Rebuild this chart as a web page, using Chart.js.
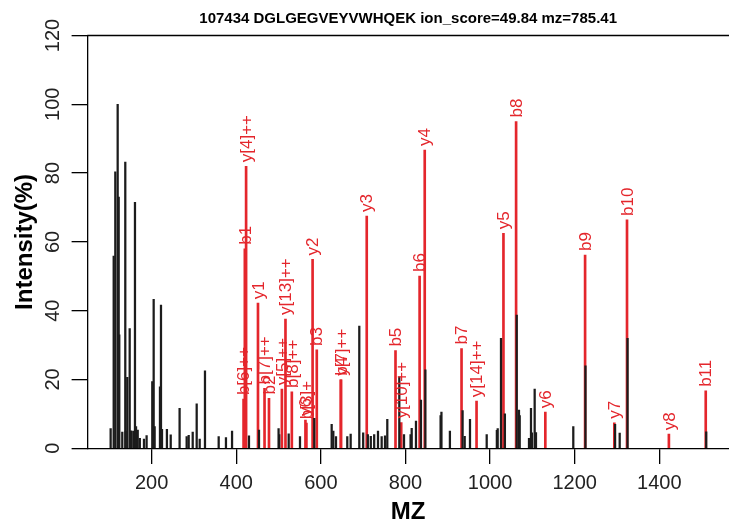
<!DOCTYPE html>
<html>
<head>
<meta charset="utf-8">
<script src="https://cdn.jsdelivr.net/npm/chart.js@4.4.1/dist/chart.umd.min.js"></script>
<style>
  html, body { margin: 0; padding: 0; background: #fff; }
  #chart_spectrum { display: block; }
</style>
</head>
<body>
<canvas id="chart_spectrum" width="729" height="525"></canvas>
<script>
// spectrum title
const title_text = '107434 DGLGEGVEYVWHQEK ion_score=49.84 mz=785.41';

// unmatched peaks (black)
const peak_mz = [103, 110.2, 114, 119.6, 122, 123.4, 130.5, 137.6, 138.5, 142.3, 148, 151, 156.5, 160.5,
  163, 167, 172, 181.8, 188, 201.4, 204.7, 207, 219.6, 222, 224.4, 236, 245, 266, 282.7, 287.5,
  297, 306.4, 313.5, 326, 358.4, 375.6, 390, 430, 453.7, 500, 501.5, 523.9, 550.6, 584.4, 625.5,
  629.4, 635.7, 662.4, 670.4, 690.8, 700, 711, 718, 726, 735, 743.7, 751.6, 757, 785.4, 796.5,
  812, 814.7, 824.8, 836.6, 847, 883, 885, 905, 935, 940, 952.5, 992, 1016, 1018, 1025.8,
  1035, 1063, 1068.3, 1070, 1092, 1096.7, 1099, 1105.4, 1108.5, 1196.7, 1225.5, 1295.5,
  1306.4, 1325, 1511];
const peak_int = [5.7, 55.9, 80.4, 100, 73, 33, 4.7, 83.2, 5, 20.6, 34.8, 5.1, 5, 71.5,
  6.3, 5.3, 2.9, 2.7, 3.7, 19.4, 43.3, 6.3, 17.9, 41.6, 5.5, 5.5, 3.9, 11.6, 3.4, 3.8,
  4.7, 12.9, 2.7, 22.5, 3.4, 3.1, 5, 3.6, 5.3, 5.7, 4, 4.2, 3.4, 8.7, 7,
  5, 3.4, 3.4, 4.1, 35.5, 4.5, 4, 3.5, 4, 5, 3.4, 3.6, 8.4, 20.8, 4,
  4, 5.8, 7.9, 14, 22.8, 9.5, 10.5, 5, 11, 3.5, 8.4, 4, 5.2, 5.7, 32,
  10, 38.7, 11.1, 9.5, 2.9, 11.6, 4.5, 17.2, 4.6, 6.3, 24, 7,
  4.4, 32, 4.8];

// matched fragment ions (red)
const ion_mz = [417.2, 420.2, 423.2, 451.3, 466.8, 477.3, 507.8, 516.3, 531.3, 563.5, 565.8,
  580.4, 590.3, 647.4, 647.3, 708.4, 776.4, 789.9, 833.4, 845.5, 932.5, 968.0, 1031.6,
  1061.5, 1130.6, 1224.6, 1293.7, 1323.7, 1422.7, 1509.8];
const ion_int = [14.3, 58, 82, 42.2, 17.4, 14.5, 17.2, 37.6, 16.4, 8.2, 7.3,
  54.9, 28.6, 19.9, 19.9, 67.5, 28.4, 7.5, 50.1, 86.7, 29, 13.7, 62.5,
  95, 10.5, 56.2, 7.4, 66.4, 4.1, 16.7];
const ion_labels = ['b[6]++', 'b1', 'y[4]++', 'y1', 'b[7]++', 'b2', 'y[5]++', 'y[13]++', 'b[8]++', 'y6', 'b[3]+',
  'y2', 'b3', 'b4', 'y[7]++', 'y3', 'b5', 'y[10]++', 'b6', 'y4', 'b7', 'y[14]++', 'y5',
  'b8', 'y6', 'b9', 'y7', 'b10', 'y8', 'b11'];

// axis ticks
const x_ticks = [200, 400, 600, 800, 1000, 1200, 1400];
const y_ticks = [0, 20, 40, 60, 80, 100, 120];

const ion_color = 'rgb(228,38,44)';
const font_family = '"Liberation Sans", Arial, Helvetica, sans-serif';

// draw ion names above red peaks, rotated like R text(srt=90)
const ionLabelPlugin = {
  id: 'ionLabels',
  afterDatasetsDraw(chart){
    const ctx = chart.ctx;
    const xs = chart.scales.x;
    const ys = chart.scales.y;
    ctx.save();
    ctx.fillStyle = ion_color;
    ctx.font = '17px ' + font_family;
    ctx.textAlign = 'left';
    ctx.textBaseline = 'middle';
    for (let i=0; i<ion_labels.length; i++){
      const px = xs.getPixelForValue(ion_mz[i]);
      const py = ys.getPixelForValue(ion_int[i]);
      ctx.save();
      ctx.translate(px + 1, py - 4);
      ctx.rotate(-Math.PI/2);
      ctx.fillText(ion_labels[i], 0, 0);
      ctx.restore();
    }
    ctx.restore();
  }
};

// top line of the plot box
const frameTopPlugin = {
  id: 'frameTop',
  afterDraw(chart){
    const {ctx, chartArea} = chart;
    ctx.save();
    ctx.strokeStyle = '#000';
    ctx.lineWidth = 1.3;
    ctx.beginPath();
    ctx.moveTo(chartArea.left, chartArea.top);
    ctx.lineTo(chartArea.right, chartArea.top);
    ctx.stroke();
    ctx.restore();
  }
};

const chartdata = {
  datasets: [{
    label: 'peaks',
    data: peak_mz.map((m, i) => ({x: m, y: peak_int[i]})),
    backgroundColor: '#1c1c1c',
    barThickness: 1.6,
    grouped: false,
    order: 0
  }, {
    label: 'ions',
    data: ion_mz.map((m, i) => ({x: m, y: ion_int[i]})),
    backgroundColor: ion_color,
    barThickness: 2,
    grouped: false,
    order: 1
  }]
};

const options = {
  responsive: false,
  animation: false,
  devicePixelRatio: 1,
  layout: { padding: 0 },
  plugins: {
    legend: { display: false },
    tooltip: { enabled: false },
    title: {
      display: true,
      text: title_text,
      fullSize: false,
      color: '#000',
      font: { family: font_family, size: 15, weight: 'bold', lineHeight: 1.2 },
      padding: { top: 10, bottom: 7.5 }
    }
  },
  scales: {
    x: {
      type: 'linear',
      min: 47.8,
      max: 1564.8,
      offset: false,
      afterBuildTicks: (scale) => { scale.ticks = x_ticks.map(v => ({value: v})); },
      afterFit: (scale) => { scale.height = 76.7; },
      ticks: {
        autoSkip: false, maxRotation: 0, padding: 9, color: '#222',
        font: { family: font_family, size: 20, lineHeight: 1 },
        callback: (v) => String(v)
      },
      grid: { drawOnChartArea: false, drawTicks: true, tickLength: 15.7, color: '#000', lineWidth: 1.3, offset: false },
      border: { color: '#000', width: 1.3 },
      title: {
        display: true, text: 'MZ', color: '#000',
        font: { family: font_family, size: 24, weight: 'bold', lineHeight: 1 },
        padding: { top: 0, bottom: 1 }
      }
    },
    y: {
      min: 0,
      max: 120,
      afterBuildTicks: (scale) => { scale.ticks = y_ticks.map(v => ({value: v})); },
      afterFit: (scale) => { scale.width = 87.3; },
      ticks: {
        minRotation: 90, maxRotation: 90, crossAlign: 'center', padding: 1.6, color: '#222',
        font: { family: font_family, size: 20 },
        callback: (v) => String(v)
      },
      grid: { drawOnChartArea: false, drawTicks: true, tickLength: 15.7, color: '#000', lineWidth: 1.3 },
      border: { color: '#000', width: 1.3 },
      title: {
        display: true, text: 'Intensity(%)', color: '#000',
        font: { family: font_family, size: 24, weight: 'bold', lineHeight: 1.2 },
        padding: { top: 10.6, bottom: 6.6 }
      }
    }
  }
};

window.spectrumChart = new Chart(document.getElementById('chart_spectrum'), {
  type: 'bar',
  data: chartdata,
  options: options,
  plugins: [ionLabelPlugin, frameTopPlugin]
});
</script>
</body>
</html>
